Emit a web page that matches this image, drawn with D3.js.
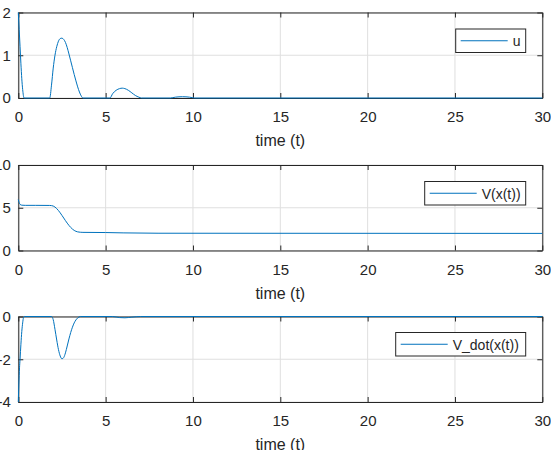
<!DOCTYPE html>
<html>
<head>
<meta charset="utf-8">
<script src="https://cdn.jsdelivr.net/npm/d3@7"></script>
<style>
  body { margin: 0; background: #fff; }
  text { font-family: "Liberation Sans", Arial, sans-serif; fill: #262626; }
</style>
</head>
<body>
<div class="chart"></div>
<script>
// time samples and values
const tU = [0, 0.05, 0.1, 0.15, 0.2, 0.25, 0.33, 1.8, 1.9, 2.0, 2.1, 2.2, 2.3, 2.4, 2.5, 2.6, 2.7, 2.8, 2.9, 3.0, 3.1, 3.2, 3.3, 3.4, 3.5, 3.6, 3.7, 5.25, 5.4, 5.6, 5.8, 5.95, 6.1, 6.3, 6.5, 6.7, 6.9, 7.05, 8.7, 9.0, 9.4, 9.8, 10.1, 30];
const uVals = [2.0, 1.6, 1.2, 0.8, 0.45, 0.2, 0, 0, 0.3, 0.7, 1.0, 1.2, 1.33, 1.39, 1.4, 1.37, 1.3, 1.18, 1.03, 0.87, 0.71, 0.55, 0.4, 0.26, 0.14, 0.05, 0, 0, 0.1, 0.18, 0.22, 0.23, 0.22, 0.18, 0.12, 0.06, 0.02, 0, 0, 0.02, 0.03, 0.02, 0, 0];

const tV = [0, 0.05, 0.1, 0.2, 0.4, 1.0, 1.8, 2.0, 2.2, 2.4, 2.6, 2.8, 3.0, 3.2, 3.4, 3.7, 5, 6, 8, 30];
const vVals = [5.96, 5.6, 5.4, 5.3, 5.28, 5.28, 5.27, 5.2, 4.9, 4.4, 3.8, 3.2, 2.7, 2.35, 2.18, 2.12, 2.1, 2.06, 2.02, 2.0];

const tVdot = [0, 0.03, 0.07, 0.1, 0.15, 0.2, 0.25, 0.3, 0.35, 1.9, 2.0, 2.1, 2.2, 2.3, 2.4, 2.5, 2.6, 2.7, 2.8, 2.9, 3.0, 3.1, 3.2, 3.3, 3.4, 3.55, 5.4, 5.8, 6.1, 6.5, 7.0, 30];
const vdotVals = [-4, -3.2, -2.4, -2.0, -1.3, -0.7, -0.3, -0.05, 0, 0, -0.15, -0.6, -1.1, -1.55, -1.85, -1.98, -1.92, -1.7, -1.38, -1.05, -0.75, -0.5, -0.3, -0.16, -0.07, 0, 0, -0.05, -0.06, -0.03, 0, 0];

const xTicks = [0, 5, 10, 15, 20, 25, 30];
const legendNames = ["u", "V(x(t))", "V_dot(x(t))"];
const yDomains = [[0, 2], [0, 10], [-4, 0]];
const yTicks = [[0, 1, 2], [0, 5, 10], [-4, -2, 0]];

const panels = [
  { t: tU, v: uVals, top: 12.5, legendW: 70 },
  { t: tV, v: vVals, top: 165, legendW: 101 },
  { t: tVdot, v: vdotVals, top: 316.5, legendW: 130 }
];

const W = 551, H = 450;
const left = 18.3, right = 542.3, ph = 85.5;
const axisColor = "#262626", lineColor = "#0072bd";

const svg = d3.select(".chart")
  .append("svg")
  .attr("width", W)
  .attr("height", H);

const x = d3.scaleLinear().domain([0, 30]).range([0, right - left]);
const pw = right - left;

panels.forEach((p, i) => {
  const g = svg.append("g")
    .attr("transform", "translate(" + left + "," + p.top + ")");

  const y = d3.scaleLinear().domain(yDomains[i]).range([ph, 0]);

  // grid
  g.append("g")
    .selectAll("line.gx")
    .data(xTicks)
    .join("line")
    .attr("x1", d => x(d)).attr("x2", d => x(d))
    .attr("y1", 0).attr("y2", ph)
    .style("stroke", "#dfdfdf");
  g.append("g")
    .selectAll("line.gy")
    .data(yTicks[i])
    .join("line")
    .attr("x1", 0).attr("x2", pw)
    .attr("y1", d => y(d)).attr("y2", d => y(d))
    .style("stroke", "#dfdfdf");

  // axes, ticks inside like matlab
  const xAxis = d3.axisBottom(x).tickValues(xTicks).tickSizeInner(-5).tickSizeOuter(0).tickPadding(13.5)
    .tickFormat(d => String(d));
  const xTop = d3.axisTop(x).tickValues(xTicks).tickSizeInner(-5).tickSizeOuter(0).tickFormat("");
  const yAxis = d3.axisLeft(y).tickValues(yTicks[i]).tickSizeInner(-5).tickSizeOuter(0).tickPadding(7.5)
    .tickFormat(d => String(d));
  const yRight = d3.axisRight(y).tickValues(yTicks[i]).tickSizeInner(-5).tickSizeOuter(0).tickFormat("");

  [
    g.append("g").attr("transform", "translate(0," + ph + ")").call(xAxis),
    g.append("g").call(xTop),
    g.append("g").call(yAxis),
    g.append("g").attr("transform", "translate(" + pw + ",0)").call(yRight)
  ].forEach(a => {
    a.selectAll("path, line").style("stroke", axisColor);
    a.selectAll("text").style("font-size", "15px").style("fill", axisColor)
      .style("font-family", "Liberation Sans, Arial, sans-serif");
  });

  g.append("text")
    .attr("x", pw / 2)
    .attr("y", ph + 48)
    .attr("text-anchor", "middle")
    .style("font-size", "16px")
    .text("time (t)");

  // data line
  const pts = p.t.map((t, k) => [t, p.v[k]]);
  const line = d3.line()
    .x(d => x(d[0]))
    .y(d => y(d[1]))
    .curve(d3.curveMonotoneX);
  g.append("path")
    .datum(pts)
    .attr("d", line)
    .style("fill", "none")
    .style("stroke", lineColor)
    .style("stroke-width", 1);

  // legend
  const lg = g.append("g")
    .attr("transform", "translate(" + (507.4 - p.legendW) + "," + (i === 2 ? 16 : 16.5) + ")");
  lg.append("rect")
    .attr("width", p.legendW)
    .attr("height", 23.5)
    .style("fill", "#fff")
    .style("stroke", axisColor);
  lg.append("line")
    .attr("x1", 5).attr("x2", 52)
    .attr("y1", 11.75).attr("y2", 11.75)
    .style("stroke", lineColor);
  lg.append("text")
    .attr("x", 57)
    .attr("y", 17)
    .style("font-size", "14px")
    .text(legendNames[i]);
});
</script>
</body>
</html>
